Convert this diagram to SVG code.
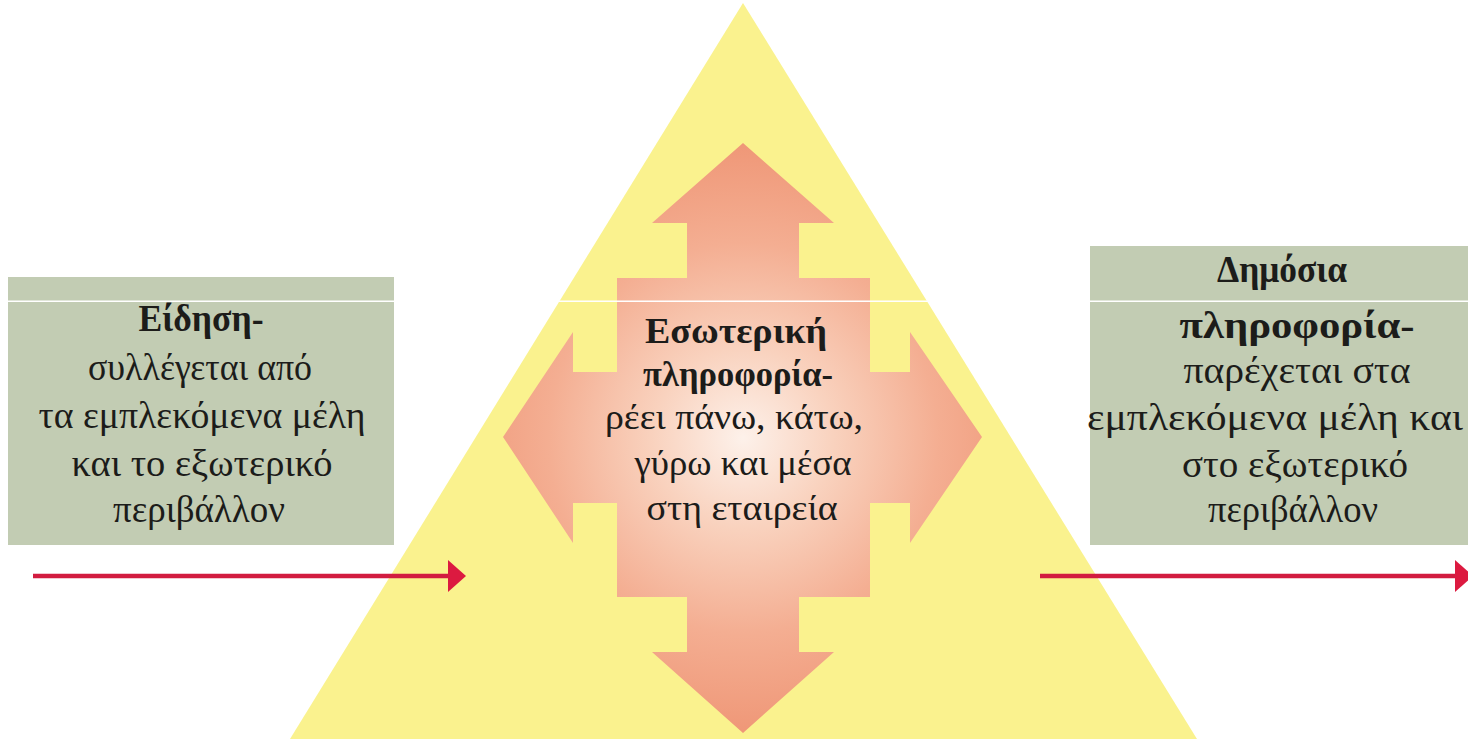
<svg xmlns="http://www.w3.org/2000/svg" width="1468" height="739" viewBox="0 0 1468 739">
  <defs>
    <radialGradient id="arrowGrad" gradientUnits="userSpaceOnUse" cx="743" cy="438" r="300">
      <stop offset="0" stop-color="#FDF1EA"/>
      <stop offset="0.3" stop-color="#F9D2BE"/>
      <stop offset="0.65" stop-color="#F4AE92"/>
      <stop offset="1" stop-color="#EF9676"/>
    </radialGradient>
    <marker id="redHead" markerUnits="userSpaceOnUse" viewBox="0 0 18 32" markerWidth="18" markerHeight="32" refX="0" refY="16" orient="auto">
      <path d="M0,0 L18,16 L0,32 Z" fill="#DC1A40"/>
    </marker>
    <style>
      .box { fill: #C2CCB3; }
      .txt { font-family: "Liberation Serif", "DejaVu Serif", serif; font-size: 37px; fill: #1C1C1A; text-anchor: middle; }
      .c { font-size: 35px; }
      .b { font-weight: bold; }
      .conn { stroke: #D21C40; stroke-width: 4.5; fill: none; }
    </style>
  </defs>
  <rect width="1468" height="739" fill="#FFFFFF"/>

  <g id="pyramid">
    <polygon points="743,3 1197,739 290,739" fill="#FAF28E"/>
  </g>

  <g id="internal-info">
    <path d="M743,143 L834,223 L799,223 L799,278 L870,278 L870,372 L910,372 L910,332 L982,437 L910,543 L910,503 L870,503 L870,597 L799,597 L799,652 L834,652 L743,733 L652,652 L687,652 L687,597 L617,597 L617,503 L573,503 L573,543 L503,437 L573,332 L573,372 L617,372 L617,278 L687,278 L687,223 L652,223 Z" fill="url(#arrowGrad)"/>
  </g>

  <g id="news">
    <rect class="box" x="8" y="277" width="386" height="268"/>
  </g>

  <g id="public-info">
    <rect class="box" x="1090" y="246" width="378" height="299"/>
  </g>

  <rect id="scanline" x="0" y="300.5" width="1468" height="1.5" fill="#FFFFFF"/>

  <g id="texts">
    <g id="news-text">
      <text class="txt b" x="201" y="331" textLength="125" lengthAdjust="spacingAndGlyphs">Είδηση-</text>
      <text class="txt" x="200" y="380" textLength="224" lengthAdjust="spacingAndGlyphs">συλλέγεται από</text>
      <text class="txt" x="202" y="428" textLength="327" lengthAdjust="spacingAndGlyphs">τα εμπλεκόμενα μέλη</text>
      <text class="txt" x="202" y="476" textLength="261" lengthAdjust="spacingAndGlyphs">και το εξωτερικό</text>
      <text class="txt" x="199" y="522" textLength="172" lengthAdjust="spacingAndGlyphs">περιβάλλον</text>
    </g>
    <g id="internal-text">
      <text class="txt c b" x="736" y="343" textLength="182" lengthAdjust="spacingAndGlyphs">Εσωτερική</text>
      <text class="txt c b" x="738" y="386" textLength="190" lengthAdjust="spacingAndGlyphs">πληροφορία-</text>
      <text class="txt c" x="734" y="429" textLength="258" lengthAdjust="spacingAndGlyphs">ρέει πάνω, κάτω,</text>
      <text class="txt c" x="743" y="475" textLength="217" lengthAdjust="spacingAndGlyphs">γύρω και μέσα</text>
      <text class="txt c" x="742" y="520" textLength="191" lengthAdjust="spacingAndGlyphs">στη εταιρεία</text>
    </g>
    <g id="public-text">
      <text class="txt b" x="1282" y="282" textLength="130" lengthAdjust="spacingAndGlyphs">Δημόσια</text>
      <text class="txt b" x="1297" y="338" textLength="235" lengthAdjust="spacingAndGlyphs">πληροφορία-</text>
      <text class="txt" x="1297" y="383" textLength="227" lengthAdjust="spacingAndGlyphs">παρέχεται στα</text>
      <text class="txt" x="1275" y="430" textLength="376" lengthAdjust="spacingAndGlyphs">εμπλεκόμενα μέλη και</text>
      <text class="txt" x="1295" y="477" textLength="226" lengthAdjust="spacingAndGlyphs">στο εξωτερικό</text>
      <text class="txt" x="1293" y="522" textLength="170" lengthAdjust="spacingAndGlyphs">περιβάλλον</text>
    </g>
  </g>

  <g id="connectors">
    <line class="conn" x1="33" y1="576" x2="448" y2="576" marker-end="url(#redHead)"/>
    <line class="conn" x1="1040" y1="576" x2="1455" y2="576" marker-end="url(#redHead)"/>
  </g>
</svg>
